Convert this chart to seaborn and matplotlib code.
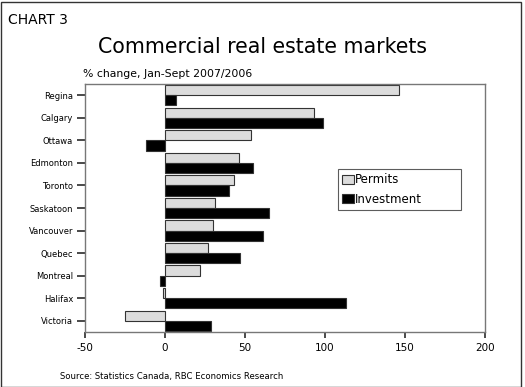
import matplotlib
matplotlib.use("Agg")
import matplotlib.pyplot as plt
import seaborn as sns
import pandas as pd

cities = ["Regina", "Calgary", "Ottawa", "Edmonton", "Toronto", "Saskatoon",
          "Vancouver", "Quebec", "Montreal", "Halifax", "Victoria"]
permits = [146, 93, 54, 46, 43, 31, 30, 27, 22, -1, -25]
investment = [7, 99, -12, 55, 40, 65, 61, 47, -3, 113, 29]
series = ["Permits", "Investment"]
xticks = [-50, 0, 50, 100, 150, 200]

df = pd.DataFrame({
    "city": cities * 2,
    "value": permits + investment,
    "series": [series[0]] * len(cities) + [series[1]] * len(cities),
})

sns.set_theme(style="white")
plt.rcParams['font.family'] = ['DejaVu Sans']
plt.rcParams['text.color'] = 'black'
plt.rcParams['xtick.color'] = 'black'
plt.rcParams['ytick.color'] = 'black'

fig = plt.figure(figsize=(5.25, 3.87), dpi=100)
ax = fig.add_axes([85/525, 1 - 332/387, 400/525, 248/387])

sns.barplot(data=df, y="city", x="value", hue="series", order=cities,
            hue_order=series, palette={"Permits": "#dcdcdc", "Investment": "#000000"},
            orient="h", width=0.9, edgecolor="#333333", linewidth=0.8, ax=ax,
            errorbar=None)

ax.set_xlim(-50, 200)
ax.set_xticks(xticks)
ax.set_xticklabels([str(t) for t in xticks], fontsize=7.5)
ax.set_ylabel("")
ax.set_xlabel("")
ax.tick_params(axis="y", labelsize=6, length=6, left=True, color="#333333", pad=2.5)
ax.tick_params(axis="x", length=4, bottom=True, color="#333333", pad=4)
for s in ax.spines.values():
    s.set_color("#777777")
    s.set_linewidth(1)

lx0 = (338 - 85) / 400
lw = (461 - 338) / 400
leg = ax.legend(loc="upper left", bbox_to_anchor=(lx0, (332 - 169) / 248, lw, 0.0),
                mode="expand", fontsize=8.5, frameon=True, fancybox=False,
                edgecolor="#333333", handlelength=1.0, handleheight=0.8,
                handletextpad=0.1, borderpad=0.35, labelspacing=0.55,
                borderaxespad=0)
leg.get_frame().set_linewidth(0.8)
for h in leg.legend_handles:
    h.set_edgecolor("#333333")

fig.text(8/525, 1 - 20/387, "CHART 3", fontsize=10, va="center", ha="left")
fig.text(262/525, 1 - 47/387, "Commercial real estate markets", fontsize=14.8,
         va="center", ha="center")
fig.text(83/525, 1 - 74/387, "% change, Jan-Sept 2007/2006", fontsize=7.8,
         va="center", ha="left")
fig.text(60/525, 1 - 377/387, "Source: Statistics Canada, RBC Economics Research",
         fontsize=6.1, va="center", ha="left")

border = plt.Rectangle((1/525, 0), 520/525, 1 - 1.5/387, transform=fig.transFigure,
                       fill=False, edgecolor="#333333", linewidth=1)
fig.patches.append(border)

fig.savefig("out.png", dpi=100)
